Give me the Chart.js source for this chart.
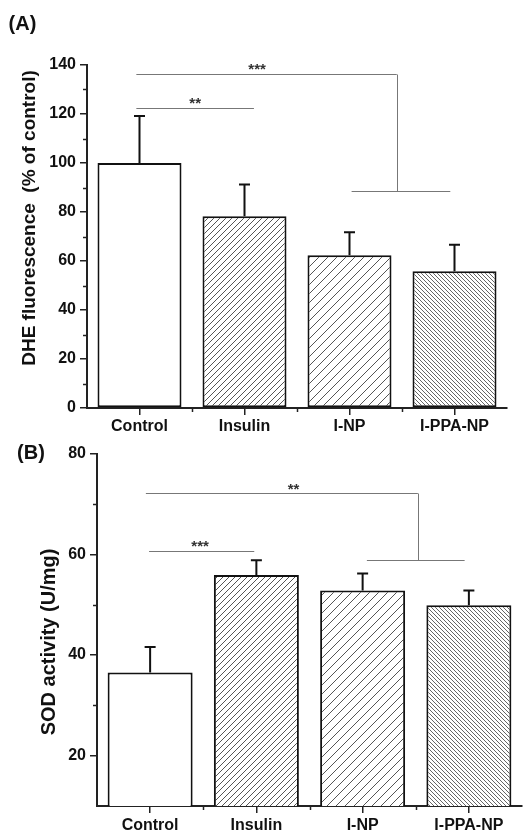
<!DOCTYPE html>
<html><head><meta charset="utf-8">
<script src="https://cdn.jsdelivr.net/npm/chart.js@4.4.1/dist/chart.umd.min.js"></script>
<style>
html,body{margin:0;padding:0;background:#fff;width:523px;height:834px;overflow:hidden}
#cA{position:absolute;left:0;top:0}
#cB{position:absolute;left:0;top:440px}
</style></head><body>
<canvas id="cA" width="523" height="440"></canvas>
<canvas id="cB" width="523" height="394"></canvas>
<script>
// ---------- data ----------
const categories = ['Control', 'Insulin', 'I-NP', 'I-PPA-NP'];

const dheMean = [100, 78.3, 62.3, 55.8];
const dheErrUp = [19.2, 12.9, 9.4, 10.8];
const dheTicks = [0, 20, 40, 60, 80, 100, 120, 140];
const dheMinorTicks = [10, 30, 50, 70, 90, 110, 130];

const sodMean = [36.5, 55.9, 52.8, 49.9];
const sodErrUp = [5.1, 2.9, 3.4, 2.9];
const sodTicks = [20, 40, 60, 80];
const sodMinorTicks = [30, 50, 70];

// significance brackets (category index / value coordinates)
const dheSig = [
  {stars: '**', y: 122.3, x0: -0.03, x1: 1.09, tx: 0.53, ty: 126.1},
  {stars: '***', y: 136.3, x0: -0.03, x1: 2.45, tx: 1.12, ty: 140, dropTo: 88.6, gx0: 2.02, gx1: 2.96}
];
const sodSig = [
  {stars: '***', y: 60.7, x0: -0.01, x1: 0.98, tx: 0.47, ty: 62.4},
  {stars: '**', y: 72.2, x0: -0.04, x1: 2.52, tx: 1.35, ty: 73.7, dropTo: 58.9, gx0: 2.04, gx1: 2.96}
];

const FONT = "'Liberation Sans', Arial, sans-serif";
Chart.defaults.font.family = FONT;
Chart.defaults.font.weight = 'bold';
Chart.defaults.color = '#111';

function hatch(ctx, period, dir, color, lw) {
  const c = document.createElement('canvas');
  c.width = c.height = period;
  const g = c.getContext('2d');
  g.fillStyle = '#fff';
  g.fillRect(0, 0, period, period);
  g.strokeStyle = color;
  g.lineWidth = lw;
  g.beginPath();
  const p = period;
  if (dir === '/') {
    g.moveTo(-1, p + 1); g.lineTo(p + 1, -1);
    g.moveTo(-1, 1); g.lineTo(1, -1);
    g.moveTo(p - 1, p + 1); g.lineTo(p + 1, p - 1);
  } else {
    g.moveTo(-1, -1); g.lineTo(p + 1, p + 1);
    g.moveTo(p - 1, -1); g.lineTo(p + 1, 1);
    g.moveTo(-1, p - 1); g.lineTo(1, p + 1);
  }
  g.stroke();
  return ctx.createPattern(c, 'repeat');
}

function extrasPlugin(cfg) {
  return {
    id: 'extras',
    afterDatasetsDraw(chart) {
      const ctx = chart.ctx;
      const xs = chart.scales.x, ys = chart.scales.y;
      ctx.save();
      // error bars (upper only)
      ctx.strokeStyle = '#111';
      ctx.lineWidth = 2;
      cfg.mean.forEach((m, i) => {
        const x = xs.getPixelForValue(i);
        const y0 = ys.getPixelForValue(m);
        const y1 = ys.getPixelForValue(m + cfg.err[i]);
        ctx.beginPath();
        ctx.moveTo(x, y0); ctx.lineTo(x, y1);
        ctx.moveTo(x - 5.5, y1); ctx.lineTo(x + 5.5, y1);
        ctx.stroke();
      });
      // minor ticks
      ctx.strokeStyle = '#222';
      ctx.lineWidth = 1.5;
      const ax = chart.chartArea.left, ay = chart.chartArea.bottom;
      cfg.minor.forEach(v => {
        const y = Math.round(ys.getPixelForValue(v)) + 0.5;
        ctx.beginPath(); ctx.moveTo(ax - 4, y); ctx.lineTo(ax, y); ctx.stroke();
      });
      [0.5, 1.5, 2.5].forEach(v => {
        const x = Math.round(xs.getPixelForValue(v)) + 0.5;
        ctx.beginPath(); ctx.moveTo(x, ay); ctx.lineTo(x, ay + 4); ctx.stroke();
      });
      // significance brackets
      ctx.strokeStyle = '#777';
      ctx.lineWidth = 1;
      cfg.sig.forEach(s => {
        const y = Math.round(ys.getPixelForValue(s.y)) + 0.5;
        ctx.beginPath();
        ctx.moveTo(xs.getPixelForValue(s.x0), y);
        ctx.lineTo(xs.getPixelForValue(s.x1), y);
        if (s.dropTo !== undefined) {
          const xd = Math.round(xs.getPixelForValue(s.x1)) + 0.5;
          const yd = Math.round(ys.getPixelForValue(s.dropTo)) + 0.5;
          ctx.moveTo(xd, y); ctx.lineTo(xd, yd);
          ctx.moveTo(xs.getPixelForValue(s.gx0), yd);
          ctx.lineTo(xs.getPixelForValue(s.gx1), yd);
        }
        ctx.stroke();
        ctx.fillStyle = '#333';
        ctx.font = 'bold 15px ' + FONT;
        ctx.textAlign = 'center';
        ctx.textBaseline = 'alphabetic';
        ctx.fillText(s.stars, xs.getPixelForValue(s.tx), ys.getPixelForValue(s.ty) + 9);
      });
      // axis title
      ctx.fillStyle = '#111';
      ctx.font = 'bold ' + cfg.titleSize + 'px ' + FONT;
      ctx.textAlign = 'center';
      ctx.textBaseline = 'middle';
      ctx.save();
      ctx.translate(cfg.titleX, cfg.titleY);
      ctx.rotate(-Math.PI / 2);
      ctx.fillText(cfg.title, 0, 0);
      ctx.restore();
      // panel label
      ctx.font = 'bold 20px ' + FONT;
      ctx.fillText(cfg.panel, cfg.panelX, cfg.panelY);
      ctx.restore();
    }
  };
}

function makeChart(id, cfg) {
  const canvas = document.getElementById(id);
  const ctx = canvas.getContext('2d');
  const fills = ['#ffffff', hatch(ctx, 6, '/', '#555', 1), hatch(ctx, 9, '/', '#555', 1), hatch(ctx, 4, '\\', '#666', 1)];
  return new Chart(ctx, {
    type: 'bar',
    data: {
      labels: categories,
      datasets: [{
        data: cfg.mean,
        backgroundColor: fills,
        borderColor: '#111',
        borderWidth: 2,
        borderSkipped: false,
        barPercentage: 0.8,
        categoryPercentage: 1.0
      }]
    },
    options: {
      responsive: false,
      animation: false,
      devicePixelRatio: 1,
      layout: {padding: cfg.padding},
      plugins: {legend: {display: false}, tooltip: {enabled: false}},
      scales: {
        x: {
          offset: true,
          grid: {display: true, drawOnChartArea: false, offset: false, tickLength: 7, color: '#222', lineWidth: 1.5},
          border: {display: true, color: '#222', width: 2},
          ticks: {font: {size: 16, weight: 'bold'}, color: '#111', padding: cfg.xPad, maxRotation: 0, autoSkip: false},
          afterFit: s => { s.height = cfg.xHeight; }
        },
        y: {
          min: cfg.min, max: cfg.max,
          afterBuildTicks: s => { s.ticks = cfg.ticks.map(v => ({value: v})); },
          grid: {display: true, drawOnChartArea: false, tickLength: 7, color: '#222', lineWidth: 1.5},
          border: {display: true, color: '#222', width: 2},
          ticks: {font: {size: 16, weight: 'bold'}, color: '#111', padding: 4},
          afterFit: s => { s.width = cfg.yWidth; }
        }
      }
    },
    plugins: [extrasPlugin(cfg)]
  });
}

makeChart('cA', {
  mean: dheMean, err: dheErrUp, ticks: dheTicks, minor: dheMinorTicks, sig: dheSig,
  min: 0, max: 140,
  padding: {left: 0, top: 65, right: 16, bottom: 0},
  yWidth: 87, xHeight: 32, xPad: 2,
  title: 'DHE fluorescence  (% of control)', titleSize: 19, titleX: 29.5, titleY: 218,
  panel: '(A)', panelX: 22.5, panelY: 24
});

makeChart('cB', {
  mean: sodMean, err: sodErrUp, ticks: sodTicks, minor: sodMinorTicks, sig: sodSig,
  min: 10, max: 80,
  padding: {left: 0, top: 13, right: 1, bottom: 0},
  yWidth: 97, xHeight: 28, xPad: 3,
  title: 'SOD activity (U/mg)', titleSize: 20, titleX: 49, titleY: 202,
  panel: '(B)', panelX: 31, panelY: 13.5
});
</script>
</body></html>
